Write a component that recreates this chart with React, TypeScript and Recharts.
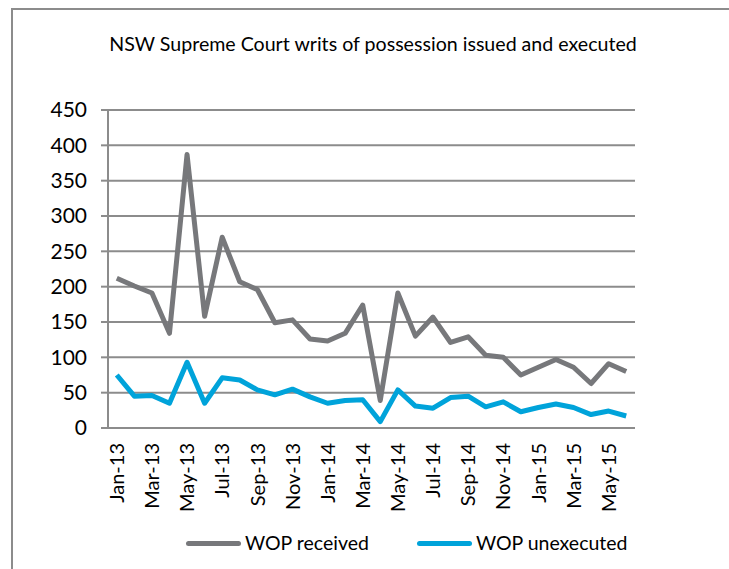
import React from 'react';
import { LineChart, Line, XAxis, YAxis, CartesianGrid, Legend } from 'recharts';

const months = [
  'Jan-13','Feb-13','Mar-13','Apr-13','May-13','Jun-13','Jul-13','Aug-13','Sep-13','Oct-13','Nov-13','Dec-13',
  'Jan-14','Feb-14','Mar-14','Apr-14','May-14','Jun-14','Jul-14','Aug-14','Sep-14','Oct-14','Nov-14','Dec-14',
  'Jan-15','Feb-15','Mar-15','Apr-15','May-15','Jun-15',
];
const wopReceived = [212, 201, 191, 134, 387, 158, 270, 207, 196, 149, 153, 126, 123, 134, 174, 39, 191, 130, 157, 121, 129, 103, 100, 75, 86, 97, 86, 63, 91, 80];
const wopUnexecuted = [75, 45, 46, 35, 93, 35, 71, 68, 54, 47, 55, 44, 35, 39, 40, 9, 54, 31, 28, 43, 45, 30, 37, 23, 29, 34, 29, 19, 24, 17];
const yTicks = [0, 50, 100, 150, 200, 250, 300, 350, 400, 450];

const data = months.map((m, i) => ({ idx: i, month: m, received: wopReceived[i], unexecuted: wopUnexecuted[i] }));
const labelTicks = months.map((_, i) => i).filter((i) => i % 2 === 0);
const boundaryTicks = [...labelTicks.map((i) => i - 0.5), months.length - 0.5];

const FONT = 'Lato, "Liberation Sans", sans-serif';
const GRID = '#8c8c8c';

const MonthTick = (props: any) => {
  const { x, y, payload } = props;
  return (
    <g transform={`translate(${x},${y}) rotate(-90)`}>
      <text x={0} y={0} dy="0.36em" textAnchor="end" fontSize={20} fontFamily={FONT} fill="#000">
        {months[payload.value]}
      </text>
    </g>
  );
};

const LegendContent = () => (
  <div style={{ display: 'flex', alignItems: 'center', whiteSpace: 'nowrap', fontFamily: FONT, fontSize: 19.5, lineHeight: '30px', color: '#000' }}>
    <span style={{ display: 'inline-block', flex: 'none', width: 55, height: 5, borderRadius: 3, background: '#77787b', marginRight: 4 }} />
    <span style={{ marginRight: 48, flex: 'none' }}>WOP received</span>
    <span style={{ display: 'inline-block', flex: 'none', width: 55, height: 5, borderRadius: 3, background: '#00a3da', marginRight: 4 }} />
    <span style={{ flex: 'none' }}>WOP unexecuted</span>
  </div>
);

export default function App() {
  return (
    <div style={{ position: 'absolute', left: 0, top: 0, width: 729, height: 569, background: '#fff', overflow: 'hidden' }}>
      <div style={{ position: 'absolute', left: 11, top: 8, width: 740, height: 600, borderLeft: `2px solid ${GRID}`, borderTop: `2px solid ${GRID}` }} />
      <div style={{ position: 'absolute', left: 0, top: 32, width: 746, textAlign: 'center', fontFamily: FONT, fontSize: 19.6, color: '#000' }}>
        NSW Supreme Court writs of possession issued and executed
      </div>
      <div style={{ position: 'absolute', left: 0, top: 0 }}>
        <LineChart width={729} height={569} data={data} margin={{ top: 110, right: 94, bottom: 11, left: 48 }}>
          <CartesianGrid vertical={false} stroke={GRID} strokeWidth={2} />
          <XAxis
            xAxisId={0}
            type="number"
            dataKey="idx"
            domain={[-0.5, months.length - 0.5]}
            ticks={boundaryTicks}
            tick={false}
            tickSize={7}
            height={0}
            axisLine={{ stroke: GRID, strokeWidth: 2 }}
            tickLine={{ stroke: GRID, strokeWidth: 2 }}
          />
          <XAxis
            xAxisId="lbl"
            type="number"
            dataKey="idx"
            domain={[-0.5, months.length - 0.5]}
            ticks={labelTicks}
            tick={<MonthTick />}
            tickSize={0}
            tickMargin={15}
            height={100}
            axisLine={false}
            tickLine={false}
          />
          <YAxis
            type="number"
            domain={[0, 450]}
            ticks={yTicks}
            width={60}
            tickSize={7}
            tickMargin={14}
            axisLine={{ stroke: GRID, strokeWidth: 2 }}
            tickLine={{ stroke: GRID, strokeWidth: 2 }}
            tick={{ fontSize: 21, fontFamily: FONT, fill: '#000' }}
          />
          <Legend content={<LegendContent />} wrapperStyle={{ position: 'absolute', left: 186, top: 528, width: 520, height: 30 }} />
          <Line type="linear" dataKey="received" stroke="#77787b" strokeWidth={5} dot={false} isAnimationActive={false} strokeLinejoin="round" />
          <Line type="linear" dataKey="unexecuted" stroke="#00a3da" strokeWidth={5} dot={false} isAnimationActive={false} strokeLinejoin="round" />
        </LineChart>
      </div>
    </div>
  );
}
